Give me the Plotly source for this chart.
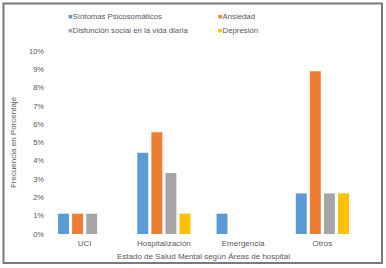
import plotly.graph_objects as go

categories = ["UCI", "Hospitalización", "Emergencia", "Otros"]
series_names = ["Síntomas Psicosomáticos", "Ansiedad", "Disfunción social en la vida diaria", "Depresión"]
sintomas = [1.11, 4.44, 1.11, 2.22]
ansiedad = [1.11, 5.56, 0, 8.89]
disfuncion = [1.11, 3.33, 0, 2.22]
depresion = [0, 1.11, 0, 2.22]
colors = ["#5B9BD5", "#ED7D31", "#A5A5A5", "#FFC000"]
tick_vals = list(range(0, 11))
tick_text = [f"{v}%" for v in tick_vals]

fig = go.Figure()
for name, vals, c in zip(series_names, [sintomas, ansiedad, disfuncion, depresion], colors):
    fig.add_trace(go.Bar(name=name, x=categories, y=vals, marker_color=c,
                         marker_line_width=0, showlegend=False))

W, H = 386, 268
L, R, T, B = 45, 24, 51, 34
pw, ph = W - L - R, H - T - B

def px_x(p):
    return (p - L) / pw

def px_y(p):
    return (H - B - p) / ph

font_col = "#595959"

# legend as annotations (2 x 2 layout)
legend_pos = [(66, 16), (216, 16), (66, 30), (216, 30)]
annotations = []
for (lx, ly), name, c in zip(legend_pos, series_names, colors):
    annotations.append(dict(
        xref="paper", yref="paper", x=px_x(lx), y=px_y(ly), xanchor="left", yanchor="middle",
        showarrow=False, align="left",
        text=f"<span style='color:{c};font-size:7px'>■</span><span style='font-size:1px'> </span>{name}",
        font=dict(size=7.8, color=font_col)))

fig.update_layout(
    width=W, height=H,
    margin=dict(l=L, r=R, t=T, b=B),
    paper_bgcolor="white", plot_bgcolor="white",
    barmode="group", bargap=0.29, bargroupgap=0.22,
    font=dict(family="Liberation Sans, Arial", size=8, color=font_col),
    showlegend=False,
    xaxis=dict(showgrid=False, showline=False, ticks="", tickfont=dict(size=8),
               ticklabelstandoff=3, automargin=False,
               title=dict(text="Estado de Salud Mental según Áreas de hospital", font=dict(size=8), standoff=6)),
    yaxis=dict(range=[0, 10], tickvals=tick_vals, ticktext=tick_text, showgrid=False,
               zeroline=False, showline=False, ticks="", tickfont=dict(size=7.5), automargin=False,
               title=dict(text="Frecuencia en Porcentaje", font=dict(size=8), standoff=11)),
    annotations=annotations,
    shapes=[dict(type="rect", xref="paper", yref="paper",
                 x0=px_x(3.5), x1=px_x(382), y0=px_y(263), y1=px_y(3.5),
                 line=dict(color="#7a7a7a", width=2), fillcolor="rgba(0,0,0,0)", layer="below")],
)

fig.write_html("out.html", config={"displayModeBar": False},
               post_script="document.body.style.margin='0';document.body.style.overflow='hidden';")
